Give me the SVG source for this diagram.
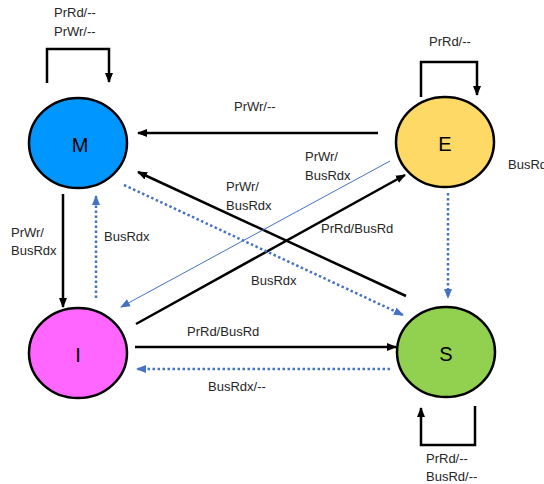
<svg xmlns="http://www.w3.org/2000/svg" width="544" height="484" viewBox="0 0 544 484">
  <style>
    .state { stroke: #000; stroke-width: 2.5; }
    .solid { fill: none; stroke: #000; stroke-width: 2.5; }
    .dotted { fill: none; stroke: #4472C4; stroke-width: 2.5; stroke-dasharray: 2.5 2.5; }
    .thin { fill: none; stroke: #4472C4; stroke-width: 1; }
    .lbl { font-family: "Liberation Sans", Arial, sans-serif; font-size: 13px; fill: #262626; }
    .name { font-family: "Liberation Sans", Arial, sans-serif; font-size: 20px; fill: #000; text-anchor: middle; }
  </style>
  <defs>
    <marker id="arrowBlack" markerUnits="userSpaceOnUse" markerWidth="10" markerHeight="10" viewBox="0 0 10 10" refX="9" refY="5" orient="auto">
      <path d="M0,1 L10,5 L0,9 Z" fill="#000"/>
    </marker>
    <marker id="arrowBlue" markerUnits="userSpaceOnUse" markerWidth="10" markerHeight="10" viewBox="0 0 10 10" refX="9" refY="5" orient="auto">
      <path d="M0,1 L10,5 L0,9 Z" fill="#4472C4"/>
    </marker>
  </defs>

  <g id="connectors">
    <!-- self loops -->
    <path class="solid" d="M47,83 V49 H109 V82" marker-end="url(#arrowBlack)"/>
    <path class="solid" d="M421,97 V62 H477 V95" marker-end="url(#arrowBlack)"/>
    <path class="solid" d="M475,406 V445 H421 V408" marker-end="url(#arrowBlack)"/>
    <!-- M <-> I -->
    <path class="solid" d="M63,194 V307" marker-end="url(#arrowBlack)"/>
    <path class="dotted" d="M96,298 V196" marker-end="url(#arrowBlue)"/>
    <!-- E -> M -->
    <path class="solid" d="M378,133 H138" marker-end="url(#arrowBlack)"/>
    <!-- S -> M -->
    <path class="solid" d="M406,296 L138,172" marker-end="url(#arrowBlack)"/>
    <!-- E -> I -->
    <path class="thin" d="M390,161 L121,307" marker-end="url(#arrowBlue)"/>
    <!-- I -> E -->
    <path class="solid" d="M136,324 L405,175" marker-end="url(#arrowBlack)"/>
    <!-- M -> S -->
    <path class="dotted" d="M124,185 L403,315" marker-end="url(#arrowBlue)"/>
    <!-- E -> S -->
    <path class="dotted" d="M448,193 V298" marker-end="url(#arrowBlue)"/>
    <!-- I -> S -->
    <path class="solid" d="M135,347 H396" marker-end="url(#arrowBlack)"/>
    <!-- S -> I -->
    <path class="dotted" d="M390,369 H137" marker-end="url(#arrowBlue)"/>

    <!-- transition labels -->
    <text class="lbl" x="54" y="17">PrRd/--</text>
    <text class="lbl" x="54" y="36">PrWr/--</text>
    <text class="lbl" x="429" y="46">PrRd/--</text>
    <text class="lbl" x="508" y="169">BusRd</text>
    <text class="lbl" x="426" y="463">PrRd/--</text>
    <text class="lbl" x="426" y="481">BusRd/--</text>
    <text class="lbl" x="11" y="237">PrWr/</text>
    <text class="lbl" x="11" y="255">BusRdx</text>
    <text class="lbl" x="104" y="241">BusRdx</text>
    <text class="lbl" x="234" y="111">PrWr/--</text>
    <text class="lbl" x="226" y="191">PrWr/</text>
    <text class="lbl" x="226" y="210">BusRdx</text>
    <text class="lbl" x="305" y="161">PrWr/</text>
    <text class="lbl" x="305" y="180">BusRdx</text>
    <text class="lbl" x="321" y="233">PrRd/BusRd</text>
    <text class="lbl" x="251" y="285">BusRdx</text>
    <text class="lbl" x="187" y="336">PrRd/BusRd</text>
    <text class="lbl" x="208" y="391">BusRdx/--</text>
  </g>

  <g id="M">
    <ellipse class="state" cx="78" cy="143" rx="49" ry="45" fill="#0096FF"/>
    <text class="name" x="80" y="152">M</text>
  </g>
  <g id="E">
    <ellipse class="state" cx="445" cy="142" rx="49" ry="45" fill="#FFD966"/>
    <text class="name" x="445" y="151">E</text>
  </g>
  <g id="I">
    <ellipse class="state" cx="78" cy="353" rx="49" ry="45" fill="#FF66FF"/>
    <text class="name" x="78" y="362">I</text>
  </g>
  <g id="S">
    <ellipse class="state" cx="446" cy="352" rx="49" ry="45" fill="#92D050"/>
    <text class="name" x="446" y="361">S</text>
  </g>
</svg>
